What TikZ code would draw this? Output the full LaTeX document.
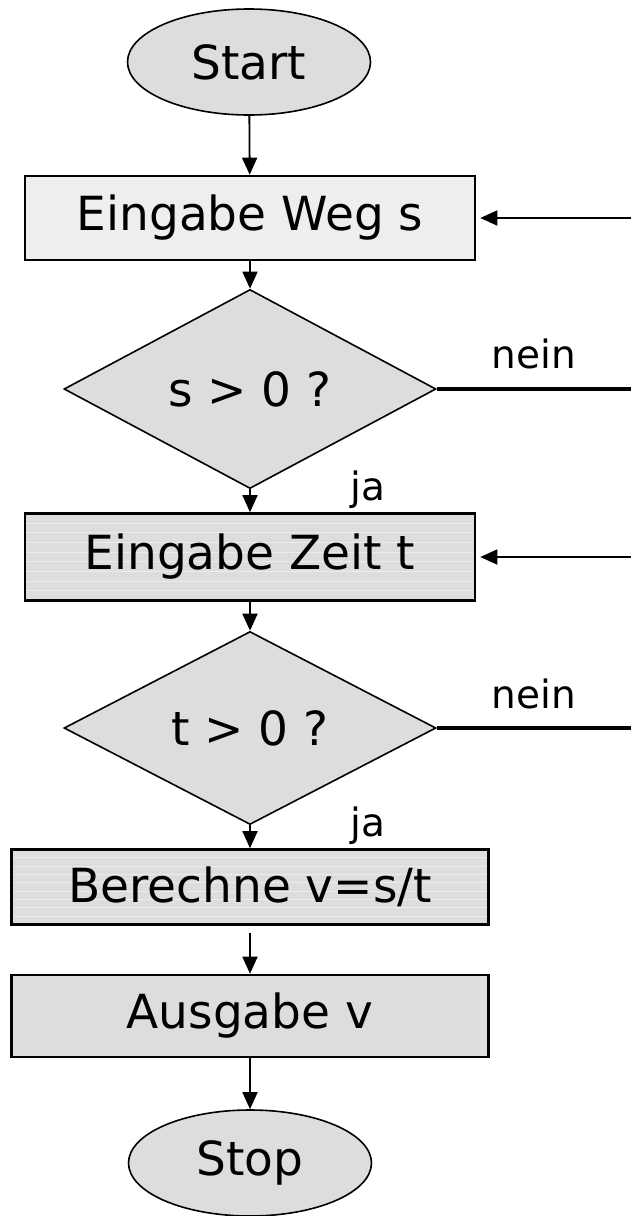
\documentclass[tikz,border=0pt]{standalone}
\usepackage{fontspec}
\setmainfont{DejaVu Sans}
\usetikzlibrary{positioning,arrows.meta,shapes.geometric,calc}
\definecolor{paGrau}{HTML}{DDDDDD}
\definecolor{paHell}{HTML}{EEEEEE}
\definecolor{paStreif}{HTML}{ECECEC}

\begin{document}
\begin{tikzpicture}[
  x=1pt, y=-1pt,
  font=\fontsize{47}{56}\selectfont,
  rand/.style={ellipse, draw, line width=1.6pt, fill=paGrau, minimum width=243pt, minimum height=106pt, inner sep=0pt},
  kasten/.style={rectangle, draw, line width=2.6pt, fill=paGrau, minimum width=450pt, inner sep=0pt},
  hell/.style={kasten, fill=paHell},
  streifen/.style={kasten, path picture={
      \foreach \k in {1,...,8}
        \draw[paStreif, line width=0.8pt]
          ($(path picture bounding box.north west)!\k/9!(path picture bounding box.south west)$) --
          ($(path picture bounding box.north east)!\k/9!(path picture bounding box.south east)$);}},
  frage/.style={diamond, draw, line width=1.6pt, fill=paGrau, minimum width=372pt, minimum height=152pt, inner sep=0pt},
  pfeil/.style={-{Triangle[length=17pt, width=15pt]}, line width=1.8pt},
  zurueck/.style={line width=3.2pt},
  zweig/.style={font=\fontsize{39}{46}\selectfont, anchor=base, inner sep=0pt},
]
\useasboundingbox (0,0) rectangle (631,1216);

% ---- Ablauf ----
\node[rand] (start) at (249,62) {Start};
\node[hell, minimum height=84pt] (eingabeS) at (250,218) {Eingabe Weg s};
\node[frage] (testS) at (250,389) {s > 0 ?};
\node[streifen, minimum height=87pt] (eingabeT) at (250,557) {Eingabe Zeit t};
\node[frage] (testT) at (250,728) {t > 0 ?};
\node[streifen, minimum width=477pt, minimum height=75pt] (berechne) at (250,887) {Berechne v=s/t};
\node[kasten, minimum width=477pt, minimum height=82pt] (ausgabe) at (250,1016) {Ausgabe v};
\node[rand] (stop) at (250,1163) {Stop};

% ---- Rand rechts ----
\coordinate (neinS)  at (631,389);
\coordinate (rueckS) at (631,218);
\coordinate (neinT)  at (631,728);
\coordinate (rueckT) at (631,557);

% ---- Pfeile ----
\draw[pfeil] (start) -- (eingabeS);
\draw[pfeil] (eingabeS) -- (testS);
\draw[pfeil] (testS.south) -- node[zweig, xshift=118pt] {ja} (eingabeT.north);
\draw[pfeil] (eingabeT) -- (testT);
\draw[pfeil] (testT.south) -- node[zweig, xshift=118pt] {ja} (berechne.north);
\draw[pfeil, shorten <=7pt] (berechne) -- (ausgabe);
\draw[pfeil] (ausgabe) -- (stop);

% ---- Nein-Zweige ----
\draw[zurueck] (testS.east) -- node[zweig, yshift=21pt] {nein} (neinS);
\draw[zurueck] (testT.east) -- node[zweig, yshift=20pt] {nein} (neinT);
\draw[pfeil, shorten >=4pt] (rueckS) -- (eingabeS.east);
\draw[pfeil, shorten >=4pt] (rueckT) -- (eingabeT.east);

\end{tikzpicture}
\end{document}
